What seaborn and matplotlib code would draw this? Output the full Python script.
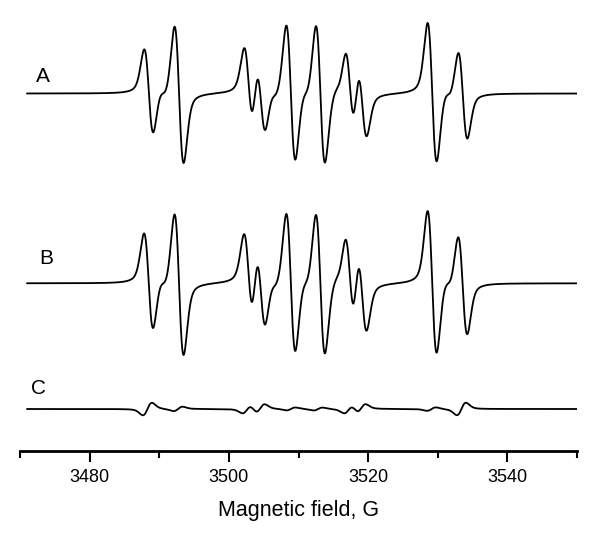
import numpy as np
import pandas as pd
import seaborn as sns
import matplotlib.pyplot as plt
from matplotlib.ticker import MultipleLocator

# line positions (G) and peak-to-peak heights (px)
centers_A = [3488.5, 3490.5, 3492.85, 3502.85, 3504.6, 3506.4, 3508.9, 3511.0,
             3513.15, 3515.8, 3517.4, 3519.15, 3529.2, 3531.5, 3533.6]
heights_A = [86, 10, 138, 84, 76, 9, 138, 8,
             140, 8, 84, 78, 140, 9, 88]

# difference spectrum C (negative = min before max)
centers_C = [3488.3, 3492.7, 3502.6, 3504.5, 3508.9, 3512.8, 3517.2, 3519.0, 3529.1, 3533.4]
heights_C = [-12.5, -4.5, -8, -9, -3, -3, -8, -9, -3.5, -12.5]

field_lo, field_hi = 3471, 3550
field = np.linspace(field_lo, field_hi, 3000)


def deriv_line(x, x0, pp, width=1.3, eta=0.35):
    # first derivative of a pseudo-Voigt, scaled to peak-to-peak = pp
    sig = width / 2
    g = -(x - x0) / sig**2 * np.exp(-(x - x0)**2 / (2 * sig**2))
    g = g / (2 * np.exp(-0.5) / sig)
    gam = width * np.sqrt(3) / 2
    u = (x - x0) / gam
    l = -2 * u / (1 + u**2)**2 / 1.299
    return pp * (eta * l + (1 - eta) * g)


spec_A = sum(deriv_line(field, c, h) for c, h in zip(centers_A, heights_A))
spec_C = sum(deriv_line(field, c, h) for c, h in zip(centers_C, heights_C))
spec_B = spec_A - spec_C

# vertical offsets of the three traces (in pixel units)
offsets = {"A": 357.2, "B": 167.4, "C": 41.7}
df = pd.concat([
    pd.DataFrame({"field": field, "signal": s + offsets[k], "trace": k})
    for k, s in zip(["A", "B", "C"], [spec_A, spec_B, spec_C])
])

sns.set_style("white")
plt.rcParams["font.family"] = ["Liberation Sans", "DejaVu Sans"]
plt.rcParams["text.color"] = "black"
plt.rcParams["axes.labelcolor"] = "black"

fig = plt.figure(figsize=(6, 5.42), dpi=100)
ax = fig.add_axes([20 / 600, 1 - 450.7 / 542, 557 / 600, 450.7 / 542])
sns.lineplot(data=df, x="field", y="signal", units="trace", estimator=None,
             color="black", lw=1.3, ax=ax, sort=False)

ax.set_xlim(3470, 3550)
ax.set_ylim(0, 450.7)
ax.xaxis.set_minor_locator(MultipleLocator(10))
ax.set_xticks([3480, 3500, 3520, 3540])
ax.tick_params(axis="x", which="major", length=8, width=1.5, direction="out",
               labelsize=13, pad=5, bottom=True, colors="black")
ax.tick_params(axis="x", which="minor", length=5, width=1.5, direction="out",
               bottom=True, colors="black")
ax.set_yticks([])
for side in ["left", "top", "right"]:
    ax.spines[side].set_visible(False)
ax.spines["bottom"].set_linewidth(2)
ax.spines["bottom"].set_color("black")
ax.set_ylabel("")
ax.set_xlabel("Magnetic field, G", fontsize=15.5, labelpad=10)

for lab, (px, py) in {"A": (43, 76), "B": (46, 258), "C": (39, 389)}.items():
    fig.text(px / 600, 1 - py / 542, lab, fontsize=15, ha="center", va="center")

fig.savefig("out.png", dpi=100)
